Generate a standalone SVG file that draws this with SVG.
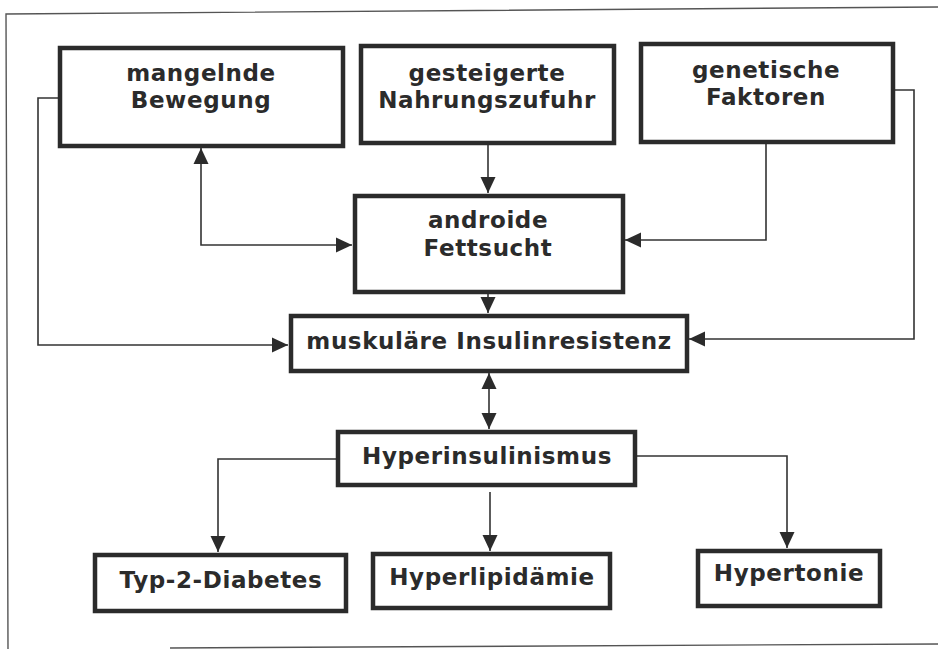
<svg xmlns="http://www.w3.org/2000/svg" width="938" height="649" viewBox="0 0 938 649">
<defs>
<style>
.box{fill:#fff;stroke:#2b2b2b;stroke-width:4.5}
.t{font-family:"DejaVu Sans",Verdana,sans-serif;font-weight:bold;font-size:23px;letter-spacing:0.6px;fill:#2b2b2b;text-anchor:middle}
.c{fill:none;stroke:#333;stroke-width:1.6}
.frame{fill:none;stroke:#555;stroke-width:1.4}
</style>
<marker id="ah" markerUnits="userSpaceOnUse" markerWidth="17" markerHeight="17" viewBox="0 0 17 17" refX="16" refY="8.5" orient="auto-start-reverse">
<path d="M0,1 L16,8.5 L0,16 Z" fill="#2b2b2b"/>
</marker>
</defs>
<rect width="938" height="649" fill="#fff"/>
<g id="frame">
<path class="frame" d="M938,7 L6,14 L8,649"/>
<path class="frame" d="M170,648 L938,644"/>
</g>
<g id="connectors">
<path class="c" d="M201,148 V245 H352" marker-start="url(#ah)" marker-end="url(#ah)"/>
<path class="c" d="M60,98 H38 V345 H288" marker-end="url(#ah)"/>
<path class="c" d="M488,144 V193" marker-end="url(#ah)"/>
<path class="c" d="M766,143 V240 H625" marker-end="url(#ah)"/>
<path class="c" d="M894,90 H914 V339 H689" marker-end="url(#ah)"/>
<path class="c" d="M488,293 V313" marker-end="url(#ah)"/>
<path class="c" d="M489,373 V429" marker-start="url(#ah)" marker-end="url(#ah)"/>
<path class="c" d="M336,459 H218 V552" marker-end="url(#ah)"/>
<path class="c" d="M490,492 V551" marker-end="url(#ah)"/>
<path class="c" d="M636,456 H787 V548" marker-end="url(#ah)"/>
</g>
<g id="mangelnde">
<rect class="box" x="60" y="48" width="283" height="98"/>
<text class="t" x="201" y="81">mangelnde</text>
<text class="t" x="201" y="108">Bewegung</text>
</g>
<g id="gesteigerte">
<rect class="box" x="361" y="46" width="253" height="97"/>
<text class="t" x="487" y="81">gesteigerte</text>
<text class="t" x="487" y="108">Nahrungszufuhr</text>
</g>
<g id="genetische">
<rect class="box" x="641" y="44" width="252" height="98"/>
<text class="t" x="766" y="78">genetische</text>
<text class="t" x="766" y="105">Faktoren</text>
</g>
<g id="androide">
<rect class="box" x="355" y="196" width="268" height="96"/>
<text class="t" x="488" y="228">androide</text>
<text class="t" x="488" y="256">Fettsucht</text>
</g>
<g id="muskulaere">
<rect class="box" x="291" y="316" width="396" height="55"/>
<text class="t" x="489" y="349">muskuläre Insulinresistenz</text>
</g>
<g id="hyperinsulinismus">
<rect class="box" x="338" y="432" width="297" height="53"/>
<text class="t" x="487" y="464">Hyperinsulinismus</text>
</g>
<g id="typ2">
<rect class="box" x="95" y="555" width="251" height="56"/>
<text class="t" x="221" y="588">Typ-2-Diabetes</text>
</g>
<g id="hyperlipidaemie">
<rect class="box" x="373" y="554" width="237" height="54"/>
<text class="t" x="492" y="585">Hyperlipidämie</text>
</g>
<g id="hypertonie">
<rect class="box" x="698" y="551" width="182" height="55"/>
<text class="t" x="789" y="581">Hypertonie</text>
</g>
</svg>
